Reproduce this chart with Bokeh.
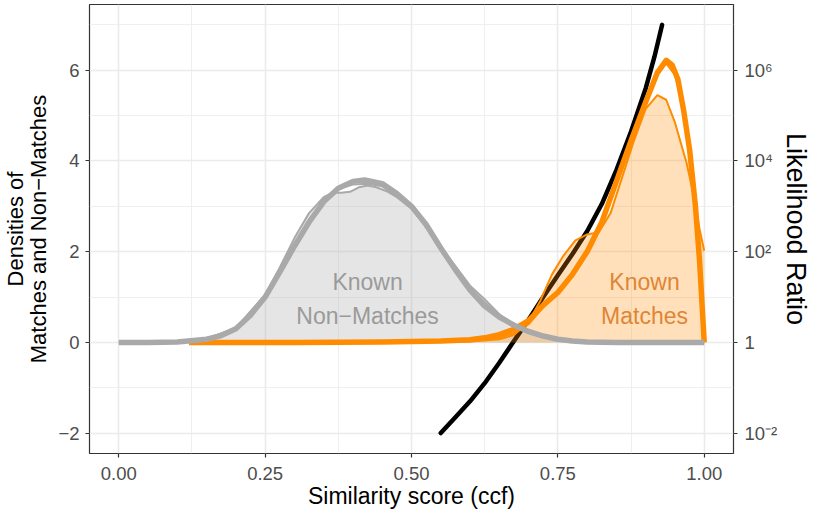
from bokeh.plotting import figure
from bokeh.models import LinearAxis, FixedTicker, Range1d, NumeralTickFormatter
from bokeh.embed import file_html
from bokeh.resources import INLINE
from bokeh.core.properties import value

# ---- data ----
x_ticks = [0.0, 0.25, 0.5, 0.75, 1.0]
x_minor = [0.125, 0.375, 0.625, 0.875]
y_ticks = [-2, 0, 2, 4, 6]
y_minor = [-1, 1, 3, 5, 7]
y_left_labels = ["\u22122", "0", "2", "4", "6"]
y_right_labels = ["10\u207b\u00b2", "1", "10\u00b2", "10\u2074", "10\u2076"]

# known non-matches: thick density
nm_thick_x = [0.00, 0.05, 0.10, 0.15, 0.175, 0.20, 0.225, 0.25, 0.275, 0.30, 0.325, 0.35, 0.375,
              0.40, 0.42, 0.45, 0.475, 0.50, 0.525, 0.55, 0.575, 0.60, 0.625, 0.65, 0.675, 0.70,
              0.725, 0.75, 0.775, 0.80, 0.85, 0.90, 1.00]
nm_thick_y = [0.0, 0.0, 0.01, 0.07, 0.15, 0.30, 0.60, 1.00, 1.55, 2.12, 2.65, 3.10, 3.40,
              3.55, 3.58, 3.50, 3.28, 3.00, 2.60, 2.08, 1.60, 1.15, 0.80, 0.56, 0.38, 0.24,
              0.14, 0.07, 0.03, 0.01, 0.0, 0.0, 0.0]
# known non-matches: thin bumpy density (filled)
nm_thin_x = [0.00, 0.10, 0.15, 0.20, 0.25, 0.275, 0.30, 0.325, 0.35, 0.365, 0.38, 0.395, 0.41,
             0.425, 0.44, 0.46, 0.475, 0.50, 0.525, 0.55, 0.575, 0.60, 0.625, 0.65, 0.675,
             0.70, 0.75, 0.80, 0.85, 1.00]
nm_thin_y = [0.0, 0.01, 0.08, 0.32, 1.05, 1.65, 2.30, 2.85, 3.20, 3.30, 3.30, 3.32, 3.42,
             3.46, 3.42, 3.32, 3.20, 2.95, 2.55, 2.10, 1.68, 1.25, 0.95, 0.62, 0.40,
             0.22, 0.06, 0.01, 0.0, 0.0]
# known non-matches: second thin density
nm_thin2_x = [0.00, 0.10, 0.15, 0.20, 0.25, 0.30, 0.35, 0.375, 0.40, 0.425, 0.45, 0.50, 0.55,
              0.60, 0.65, 0.70, 0.75, 0.80, 0.85, 1.00]
nm_thin2_y = [0.0, 0.01, 0.08, 0.31, 1.02, 2.18, 3.15, 3.38, 3.48, 3.50, 3.44, 2.98, 2.08,
              1.18, 0.58, 0.24, 0.07, 0.01, 0.0, 0.0]

# known matches: thick density
m_thick_x = [0.12, 0.30, 0.45, 0.55, 0.60, 0.625, 0.65, 0.675, 0.70, 0.725, 0.75, 0.775, 0.80,
             0.825, 0.85, 0.875, 0.90, 0.92, 0.935, 0.945, 0.955, 0.965, 0.975, 0.985, 0.992, 1.00]
m_thick_y = [0.0, 0.0, 0.01, 0.03, 0.06, 0.10, 0.17, 0.29, 0.48, 0.82, 1.10, 1.50, 2.00,
             2.65, 3.55, 4.45, 5.30, 5.95, 6.22, 6.12, 5.80, 5.10, 4.25, 3.00, 1.80, 0.0]
# known matches: thin bumpy density (filled)
m_thin_x = [0.12, 0.30, 0.45, 0.55, 0.60, 0.65, 0.675, 0.70, 0.72, 0.74, 0.76, 0.78, 0.80,
            0.82, 0.84, 0.86, 0.88, 0.90, 0.92, 0.935, 0.95, 0.97, 0.985, 0.992, 1.00]
m_thin_y = [0.0, 0.0, 0.0, 0.01, 0.02, 0.07, 0.16, 0.45, 0.92, 1.50, 1.92, 2.25, 2.38,
            2.43, 2.85, 3.65, 4.45, 5.15, 5.45, 5.35, 4.85, 3.95, 3.05, 2.50, 2.02]
# known matches: second thin density
m_thin2_x = [0.12, 0.45, 0.55, 0.60, 0.65, 0.675, 0.70, 0.725, 0.75, 0.775, 0.80, 0.825, 0.85,
             0.875, 0.90, 0.92, 0.935, 0.95, 0.965, 0.975, 0.985, 0.992, 1.00]
m_thin2_y = [0.0, 0.0, 0.01, 0.03, 0.10, 0.20, 0.40, 0.78, 1.12, 1.55, 2.05, 2.70, 3.60,
             4.50, 5.30, 5.90, 6.15, 5.90, 5.10, 4.30, 3.05, 1.85, 0.0]

# log10 likelihood ratio
lr_x = [0.55, 0.575, 0.60, 0.625, 0.65, 0.675, 0.70, 0.725, 0.75, 0.775, 0.80, 0.825, 0.85,
        0.875, 0.90, 0.915, 0.928]
lr_y = [-2.0, -1.65, -1.3, -0.9, -0.45, 0.03, 0.50, 1.00, 1.48, 1.95, 2.45, 3.05, 3.80,
        4.65, 5.60, 6.30, 7.0]

nm_label = ["Known", "Non\u2212Matches"]
m_label = ["Known", "Matches"]

# ---- figure ----
FONT = "Liberation Sans"
GREY = "#A9A9A9"
ORANGE = "#FF8C00"

p = figure(width=814, height=513, x_range=Range1d(-0.05, 1.05), y_range=Range1d(-2.45, 7.45),
           output_backend="svg", toolbar_location=None,
           min_border_left=87, min_border_right=81, min_border_top=4, min_border_bottom=60)
p.background_fill_color = "white"
p.border_fill_color = "white"
p.outline_line_color = "#333333"
p.outline_line_width = 1.2

p.xaxis.ticker = FixedTicker(ticks=x_ticks, minor_ticks=x_minor)
p.xaxis.formatter = NumeralTickFormatter(format="0.00")
p.yaxis.ticker = FixedTicker(ticks=y_ticks, minor_ticks=y_minor)
p.yaxis.major_label_overrides = {t: l for t, l in zip(y_ticks, y_left_labels)}

right = LinearAxis(ticker=FixedTicker(ticks=y_ticks),
                   major_label_overrides={t: l for t, l in zip(y_ticks, y_right_labels)})
p.add_layout(right, "right")

p.xaxis.axis_label = "Similarity score (ccf)"
p.yaxis.axis_label = "Densities of\nMatches and Non\u2212Matches"
right.axis_label = "Likelihood Ratio"

for ax in [p.xaxis[0], p.yaxis[0], right]:
    ax.axis_line_color = None
    ax.major_tick_line_color = "#333333"
    ax.major_tick_line_width = 1.2
    ax.major_tick_out = 4
    ax.major_tick_in = 0
    ax.minor_tick_out = 0
    ax.minor_tick_in = 0
    ax.major_label_text_font = FONT
    ax.major_label_text_font_size = "18.5px"
    ax.major_label_text_color = "#4D4D4D"
    ax.axis_label_text_font = FONT
    ax.axis_label_text_font_style = "normal"
    ax.axis_label_text_color = "black"

p.yaxis.axis_label_text_font_size = "22px"
p.yaxis.axis_label_text_line_height = 0.93
p.yaxis.major_label_standoff = 6
p.yaxis.axis_label_standoff = 4

p.xaxis.axis_label_text_font_size = "23px"
p.xaxis.major_label_standoff = 9
p.xaxis.axis_label_standoff = 0

right.axis_label_text_font_size = "27px"
right.major_label_standoff = 7
right.axis_label_standoff = 1

for g in [p.xgrid[0], p.ygrid[0]]:
    g.grid_line_color = "#EBEBEB"
    g.grid_line_width = 1.6
    g.minor_grid_line_color = "#EBEBEB"
    g.minor_grid_line_width = 0.8

# fills (black LR line sits under the orange fill)
p.varea(x=nm_thin_x, y1=0, y2=nm_thin_y, fill_color=GREY, fill_alpha=0.3)
p.line(lr_x, lr_y, line_color="black", line_width=4.5, line_cap="round")
p.varea(x=m_thin_x, y1=0, y2=m_thin_y, fill_color=ORANGE, fill_alpha=0.27)

# match densities
p.line(m_thin2_x, m_thin2_y, line_color=ORANGE, line_width=2)
p.line(m_thin_x, m_thin_y, line_color=ORANGE, line_width=2)
p.line(m_thick_x, m_thick_y, line_color=ORANGE, line_width=5.5, line_join="round")
# non-match densities
p.line(nm_thin2_x, nm_thin2_y, line_color=GREY, line_width=2)
p.line(nm_thin_x, nm_thin_y, line_color=GREY, line_width=2)
p.line(nm_thick_x, nm_thick_y, line_color=GREY, line_width=5.5, line_join="round")

# labels
p.text(x=[0.425, 0.425], y=[1.34, 0.59], text=nm_label, text_font=value(FONT),
       text_font_size="23px", text_align="center", text_baseline="middle", text_color="#9A9A9A")
p.text(x=[0.898, 0.898], y=[1.34, 0.59], text=m_label, text_font=value(FONT),
       text_font_size="23px", text_align="center", text_baseline="middle", text_color="#E08535")

open("out.html", "w").write(file_html(p, INLINE))
